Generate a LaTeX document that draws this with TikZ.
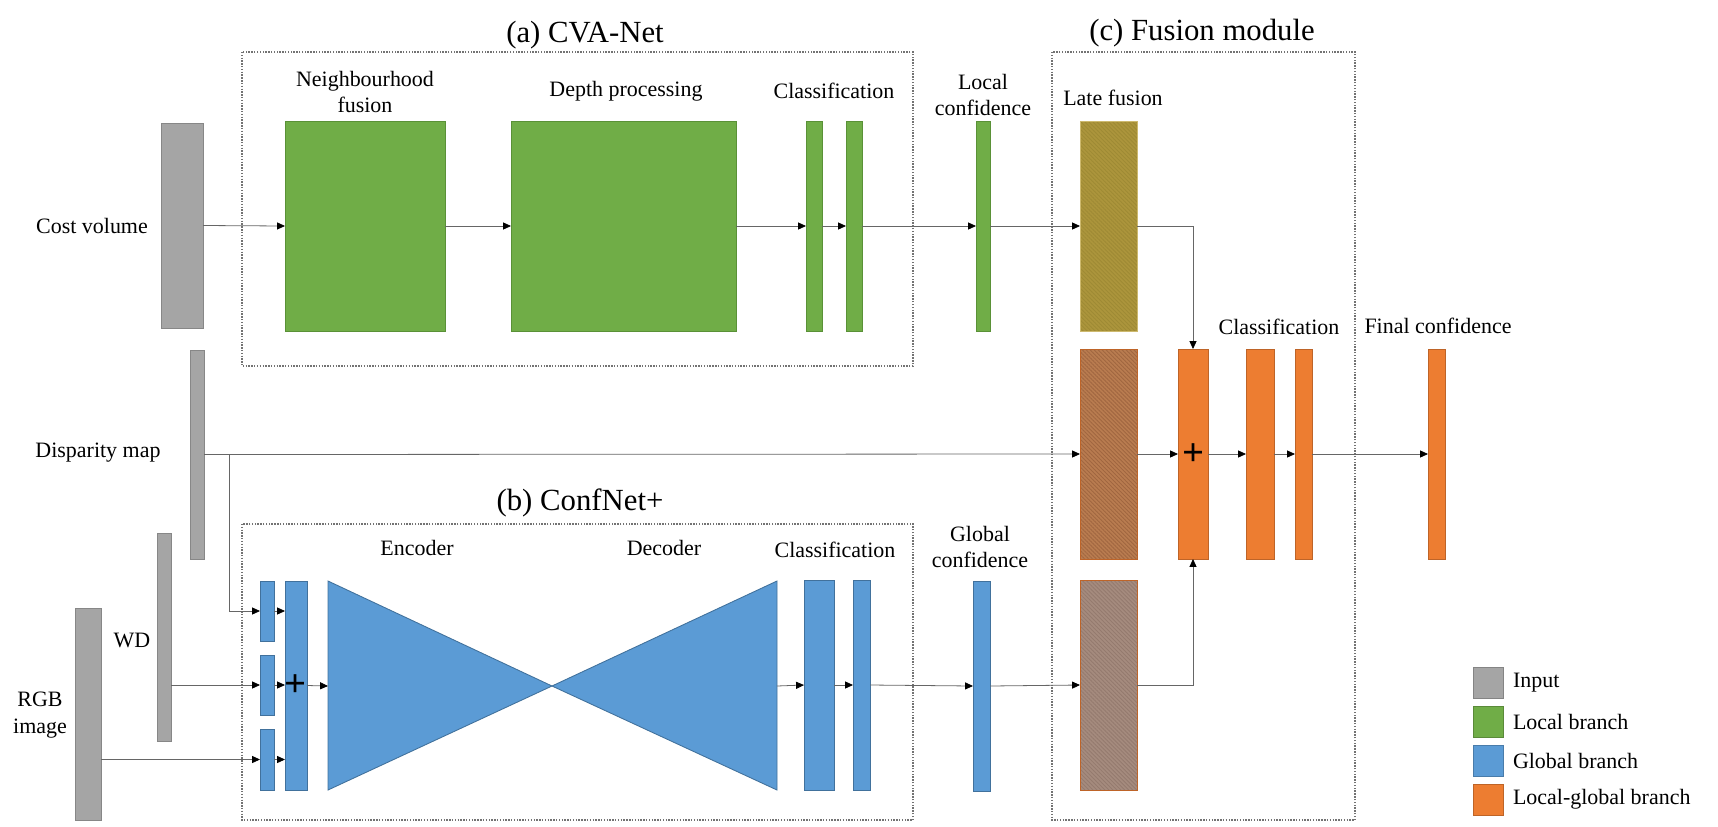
\documentclass[tikz,border=0pt]{standalone}
\usepackage{fontspec}
\setmainfont{Liberation Serif}
\usepackage{xcolor}
\usepackage{tikz}
\usetikzlibrary{arrows.meta, positioning, calc, patterns.meta}
\definecolor{cGray}{RGB}{165,165,165}
\definecolor{cGrayD}{RGB}{135,135,135}
\definecolor{cGreen}{RGB}{112,173,71}
\definecolor{cGreenD}{RGB}{90,145,55}
\definecolor{cBlue}{RGB}{91,155,213}
\definecolor{cBlueD}{RGB}{65,113,156}
\definecolor{cOrange}{RGB}{237,125,49}
\definecolor{cOrangeD}{RGB}{190,100,40}
\definecolor{cOlive}{RGB}{172,149,60}
\definecolor{cOliveL}{RGB}{158,138,52}
\definecolor{cOliveD}{RGB}{205,185,110}
\definecolor{cBrown}{RGB}{185,124,80}
\definecolor{cBrownL}{RGB}{160,102,64}
\definecolor{cMauve}{RGB}{165,139,126}
\definecolor{cMauveL}{RGB}{148,122,110}

\begin{document}
\begin{tikzpicture}[x=0.02cm, y=-0.02cm, font=\fontsize{12.5}{15}\selectfont,
	bx/.style 2 args={minimum width=#1*0.02cm, minimum height=#2*0.02cm, anchor=north west, inner sep=0pt, outer sep=0pt},
	inp/.style={draw=cGrayD, fill=cGray, line width=0.5pt},
	loc/.style={draw=cGreenD, fill=cGreen, line width=0.5pt},
	glb/.style={draw=cBlueD, fill=cBlue, line width=0.5pt},
	lgb/.style={draw=cOrangeD, fill=cOrange, line width=0.5pt},
	mix/.style 2 args={preaction={fill=#1}, pattern={Lines[angle=-45, distance=1.6pt, line width=0.5pt]}, pattern color=#2, line width=0.5pt},
	grp/.style={draw=black!55, line width=0.8pt, dash pattern=on 0.8pt off 0.8pt},
	arr/.style={draw=black!60, line width=0.45pt, -{Triangle[length=4.5pt, width=4pt, color=black]}},
	ttl/.style={font=\fontsize{17.5}{20}\selectfont},
	lbl/.style={align=center, inner sep=0pt}]
				\useasboundingbox (0,0) rectangle (1718,826);
				\draw[grp] (242,52) rectangle (913,366);
				\draw[grp] (242,524) rectangle (913,820);
				\draw[grp] (1052,52) rectangle (1355,820);
				\node[ttl] (ta) at (585,35) {(a) CVA-Net};
				\node[ttl] (tb) at (580,503) {(b) ConfNet+};
				\node[ttl] (tc) at (1202,33) {(c) Fusion module};
				\node[inp, bx={42}{205}] (cv) at (161,123) {};
				\node[inp, bx={14}{209}] (dm) at (190,350) {};
				\node[inp, bx={14}{208}] (wd) at (157,533) {};
				\node[inp, bx={26}{212}] (rgb) at (75,608) {};
				\node[loc, bx={160}{210}] (nf) at (285,121) {};
				\node[loc, bx={225}{210}] (dp) at (511,121) {};
				\node[loc, bx={16}{210}] (gc1) at (806,121) {};
				\node[loc, bx={16}{210}] (gc2) at (846,121) {};
				\node[loc, bx={14}{210}] (lconf) at (976,121) {};
				\node[mix={cOlive}{cOliveL}, draw=cOliveD, bx={57}{210}] (ftop) at (1080,121) {};
				\node[mix={cBrown}{cBrownL}, draw=cOrangeD, bx={57}{210}] (fmid) at (1080,349) {};
				\node[mix={cMauve}{cMauveL}, draw=cOrangeD, bx={57}{210}] (fbot) at (1080,580) {};
				\node[lgb, bx={30}{210}] (sum) at (1178,349) {};
				\node[lgb, bx={28}{210}] (oc1) at (1246,349) {};
				\node[lgb, bx={17}{210}] (oc2) at (1295,349) {};
				\node[lgb, bx={17}{210}] (fin) at (1428,349) {};
				\node[glb, bx={14}{60}] (s1) at (260,581) {};
				\node[glb, bx={14}{60}] (s2) at (260,655) {};
				\node[glb, bx={14}{61}] (s3) at (260,729) {};
				\node[glb, bx={22}{209}] (cat) at (285,581) {};
				\filldraw[glb] (328,581) -- (552,686) -- (328,790) -- cycle;
				\filldraw[glb] (777,581) -- (552,686) -- (777,790) -- cycle;
				\coordinate (encIn) at (328,686);
				\coordinate (decOut) at (777,686);
				\node[glb, bx={30}{210}] (bc1) at (804,580) {};
				\node[glb, bx={17}{210}] (bc2) at (853,580) {};
				\node[glb, bx={17}{210}] (gconf) at (973,581) {};
				\node (plusA) at (296,686) {\fontsize{22}{22}\selectfont\bfseries +};
				\node (plusC) at (1193,455) {\fontsize{22}{22}\selectfont\bfseries +};
				\foreach \a/\b in {cv/nf, nf/dp, dp/gc1, gc1/gc2, gc2/lconf, lconf/ftop, dm/fmid, fmid/sum, sum/oc1, oc1/oc2, oc2/fin, bc1/bc2, bc2/gconf, gconf/fbot}
				\draw[arr] (\a.east) -- (\b.west);
				\coordinate (split) at ($(dm.east)+(25,0)$);
				\draw[arr] (split) |- (s1.west);
				\draw[arr] (wd.east |- s2.west) -- (s2.west);
				\draw[arr] (rgb.east |- s3.west) -- (s3.west);
				\foreach \s in {s1,s2,s3}
				\draw[arr] (\s.east) -- (\s.east -| cat.west);
				\draw[arr] (cat.east) -- (encIn);
				\draw[arr] (decOut) -- (bc1.west);
				\draw[arr] (ftop.east) -| (sum.north);
				\draw[arr] (fbot.east) -| (sum.south);
				\node[lbl] (lcv) at (92,226) {Cost volume};
				\node[lbl] (ldm) at (98,453) {Disparity map};
				\node[lbl] (lwd) at (132,640) {WD};
				\node[lbl] (lrgb) at (40,715) {RGB\\image};
				\node[lbl] (lnf) at (365,92) {Neighbourhood\\fusion};
				\node[lbl] (ldp) at (626,91) {Depth processing};
				\node[lbl] (lgc) at (834,91) {Classification};
				\node[lbl] (llc) at (983,95) {Local\\confidence};
				\node[lbl] (llf) at (1113,98) {Late fusion};
				\node[lbl] (loc) at (1279,327) {Classification};
				\node[lbl] (lfin) at (1438,326) {Final confidence};
				\node[lbl] (lenc) at (417,548) {Encoder};
				\node[lbl] (ldec) at (664,548) {Decoder};
				\node[lbl] (lbc) at (835,550) {Classification};
				\node[lbl] (lgconf) at (980,547) {Global\\confidence};
				\foreach \c/\t [count=\i] in {cGray/Input, cGreen/Local branch, cBlue/Global branch, cOrange/Local-global branch}
				{\node[draw=\c!80!black, fill=\c, line width=0.5pt, bx={30}{31}] (key\i) at (1473,628+39*\i) {};
				\node[right=5.5pt of key\i, inner sep=0pt] (keyt\i) {\t};}
			\end{tikzpicture}
\end{document}
